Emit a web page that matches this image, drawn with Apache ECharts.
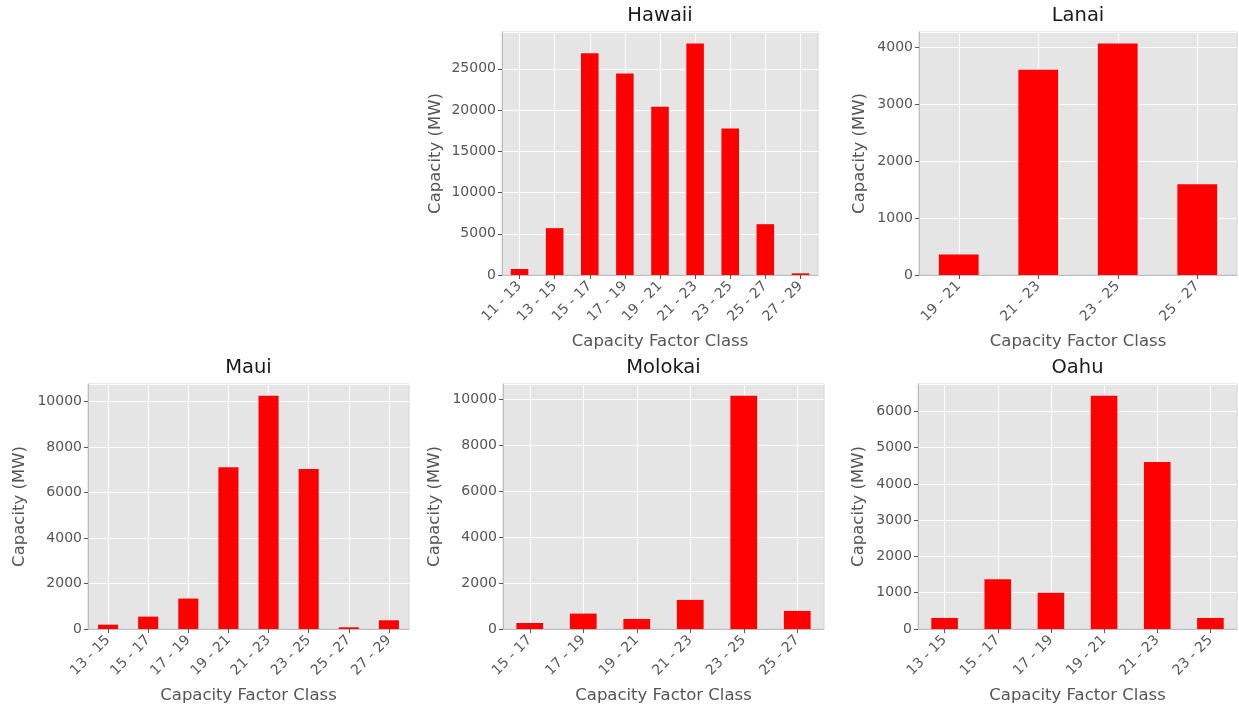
<!DOCTYPE html>
<html>
<head>
<meta charset="utf-8">
<script src="https://cdn.jsdelivr.net/npm/echarts@6/dist/echarts.min.js"></script>
<style>
html,body{margin:0;padding:0;background:#fff;}
#chart{width:1239px;height:710px;}
</style>
</head>
<body>
<div id="chart"></div>
<script>
// ---- Data ----
const hawaiiCats = ['11 - 13','13 - 15','15 - 17','17 - 19','19 - 21','21 - 23','23 - 25','25 - 27','27 - 29'];
const hawaiiVals = [725, 5680, 26890, 24440, 20410, 28060, 17750, 6160, 200];

const lanaiCats = ['19 - 21','21 - 23','23 - 25','25 - 27'];
const lanaiVals = [361, 3598, 4058, 1590];

const mauiCats = ['13 - 15','15 - 17','17 - 19','19 - 21','21 - 23','23 - 25','25 - 27','27 - 29'];
const mauiVals = [191, 545, 1340, 7113, 10265, 7040, 74, 383];

const molokaiCats = ['15 - 17','17 - 19','19 - 21','21 - 23','23 - 25','25 - 27'];
const molokaiVals = [262, 670, 437, 1266, 10146, 786];

const oahuCats = ['13 - 15','15 - 17','17 - 19','19 - 21','21 - 23','23 - 25'];
const oahuVals = [305, 1375, 997, 6434, 4606, 305];

const titles = ['Hawaii','Lanai','Maui','Molokai','Oahu'];
const yTickStep = [5000, 1000, 2000, 2000, 1000];
const xAxisTitle = 'Capacity Factor Class';
const yAxisTitle = 'Capacity (MW)';

// ---- Layout ----
const panels = [
  {cats: hawaiiCats, vals: hawaiiVals, grid: {left: 502, top: 32, width: 316, height: 243}, yGap: 58},
  {cats: lanaiCats, vals: lanaiVals, grid: {left: 919, top: 32, width: 318, height: 243}, yGap: 51},
  {cats: mauiCats, vals: mauiVals, grid: {left: 88, top: 384, width: 321, height: 245}, yGap: 60},
  {cats: molokaiCats, vals: molokaiVals, grid: {left: 503, top: 384, width: 321, height: 245}, yGap: 60},
  {cats: oahuCats, vals: oahuVals, grid: {left: 918, top: 384, width: 319, height: 245}, yGap: 51}
];

const FONT = 'DejaVu Sans';
const grids = [], xAxes = [], yAxes = [], series = [], titleArr = [];

panels.forEach((p, i) => {
  grids.push(Object.assign({
    show: true, backgroundColor: '#E5E5E5', borderColor: '#d4d4d4', borderWidth: 1, containLabel: false
  }, p.grid));
  titleArr.push({
    text: titles[i],
    left: p.grid.left + p.grid.width / 2,
    top: p.grid.top - 26,
    textAlign: 'center',
    padding: 0,
    textStyle: {fontFamily: FONT, fontSize: 19.5, fontWeight: 'normal', color: '#1a1a1a'}
  });
  xAxes.push({
    type: 'category', gridIndex: i, data: p.cats,
    boundaryGap: true,
    name: xAxisTitle, nameLocation: 'middle', nameGap: 58,
    nameTextStyle: {fontFamily: FONT, fontSize: 16.5, color: '#555555'},
    axisLine: {show: true, lineStyle: {color: '#bdbdbd', width: 1}},
    axisTick: {show: true, alignWithLabel: true, length: 4, lineStyle: {color: '#555555'}},
    axisLabel: {interval: 0, rotate: 45, margin: 9, fontFamily: FONT, fontSize: 14, color: '#555555'},
    splitLine: {show: true, alignWithLabel: true, interval: 0, lineStyle: {color: '#ffffff', width: 1}}
  });
  const maxV = Math.max.apply(null, p.vals) * 1.05;
  yAxes.push({
    type: 'value', gridIndex: i, min: 0, max: maxV, interval: yTickStep[i],
    name: yAxisTitle, nameLocation: 'middle', nameGap: p.yGap,
    nameTextStyle: {fontFamily: FONT, fontSize: 16.5, color: '#555555'},
    axisLine: {show: true, lineStyle: {color: '#bdbdbd', width: 1}},
    axisTick: {show: true, length: 4, lineStyle: {color: '#555555'}},
    axisLabel: {showMaxLabel: false, margin: 6, fontFamily: FONT, fontSize: 14, color: '#555555',
      formatter: v => String(Math.round(v))},
    splitLine: {show: true, lineStyle: {color: '#ffffff', width: 1}}
  });
  series.push({
    type: 'bar', xAxisIndex: i, yAxisIndex: i, data: p.vals,
    barWidth: '50%',
    itemStyle: {color: '#ff0000'},
    z: 5,
    silent: true
  });
});

const chart = echarts.init(document.getElementById('chart'), null, {renderer: 'canvas'});
chart.setOption({
  animation: false,
  backgroundColor: '#ffffff',
  title: titleArr,
  grid: grids,
  xAxis: xAxes,
  yAxis: yAxes,
  series: series
});
</script>
</body>
</html>
